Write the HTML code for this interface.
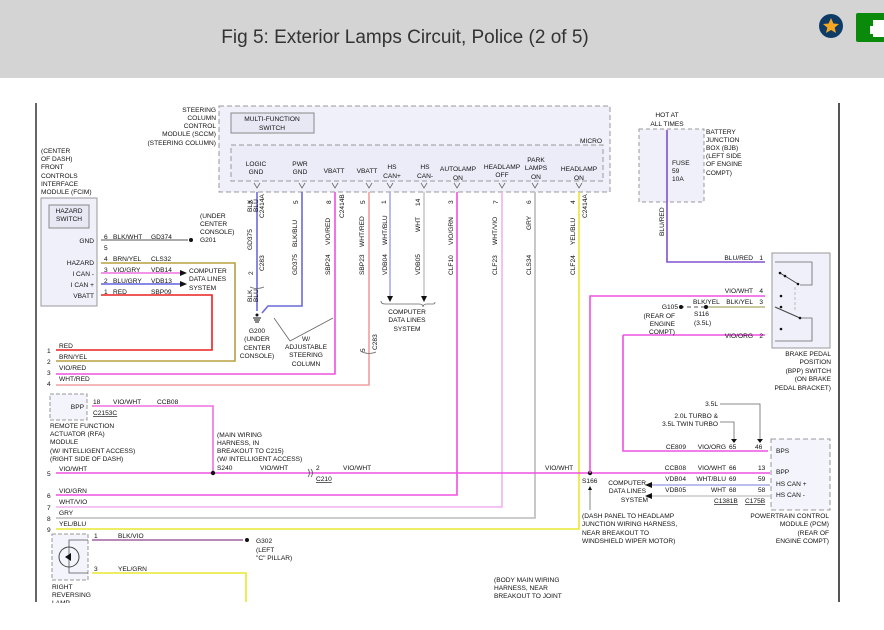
<!DOCTYPE html>
<html><head><meta charset="utf-8"><style>
html,body{margin:0;padding:0;background:#fff;}
body{width:884px;height:630px;overflow:hidden;position:relative;font-family:"Liberation Sans",sans-serif;}
#hdr{position:absolute;left:0;top:0;width:884px;height:78px;background:#d4d4d4;}
#title{position:absolute;left:0;width:810px;top:27px;text-align:center;font-size:19px;color:#333;}
svg{position:absolute;left:0;top:0;}
svg text{font-family:"Liberation Sans",sans-serif;font-size:6.6px;fill:#111;}
</style></head><body>
<div id="hdr"><div id="title">Fig 5: Exterior Lamps Circuit, Police (2 of 5)</div></div>
<svg width="884" height="630" viewBox="0 0 884 630">
<!-- header icons -->
<circle cx="831" cy="26" r="12" fill="#0e3c66"/>
<polygon points="831,18 833.4,23.5 839,24 834.7,27.6 836,33 831,30 826,33 827.3,27.6 823,24 828.6,23.5" fill="#f5a623"/>
<rect x="856" y="13" width="30" height="29" rx="2" fill="#0a8a0a"/>
<rect x="873" y="20" width="12" height="6" fill="#fff"/><rect x="870" y="26" width="15" height="8" fill="#fff"/><rect x="873" y="33" width="12" height="4" fill="#fff"/>
<!-- borders -->
<line x1="36" y1="103" x2="36" y2="602" stroke="#333" stroke-width="1.5"/>
<line x1="839" y1="103" x2="839" y2="602" stroke="#555" stroke-width="2"/>

<!-- SCCM -->
<rect x="219" y="106" width="391" height="86" fill="#f0f0fa" stroke="#999" stroke-dasharray="5,3"/>
<rect x="231" y="145" width="372" height="36" fill="#ececf8" stroke="#999" stroke-dasharray="5,3"/>
<rect x="231" y="113" width="83" height="20" fill="#e8e8f4" stroke="#888"/>
<text x="272" y="121" text-anchor="middle">MULTI-FUNCTION</text><text x="272" y="130" text-anchor="middle">SWITCH</text>
<text x="602" y="143" text-anchor="end">MICRO</text>
<g text-anchor="end"><text x="216" y="112">STEERING</text><text x="216" y="120">COLUMN</text><text x="216" y="128">CONTROL</text><text x="216" y="136">MODULE (SCCM)</text><text x="216" y="145">(STEERING COLUMN)</text></g>
<g text-anchor="middle">
<text x="256" y="166">LOGIC</text><text x="256" y="174">GND</text>
<text x="300" y="166">PWR</text><text x="300" y="174">GND</text>
<text x="334" y="173">VBATT</text><text x="367" y="173">VBATT</text>
<text x="392" y="169">HS</text><text x="392" y="178">CAN+</text>
<text x="425" y="169">HS</text><text x="425" y="178">CAN-</text>
<text x="458" y="171">AUTOLAMP</text><text x="458" y="180">ON</text>
<text x="502" y="169">HEADLAMP</text><text x="502" y="177">OFF</text>
<text x="536" y="162">PARK</text><text x="536" y="170">LAMPS</text><text x="536" y="179">ON</text>
<text x="579" y="171">HEADLAMP</text><text x="579" y="180">ON</text>
</g>
<!-- SCCM wires -->
<g fill="none" stroke-width="1.6">
<polyline points="257,192 257,311" stroke="#6a6ad8"/>
<polyline points="302,192 302,306 268,306 262,313" stroke="#6a6ad8"/>
<polyline points="335,192 335,374 56,374" stroke="#f050e0"/>
<polyline points="369,192 369,385 56,385" stroke="#f0a0a0"/>
<polyline points="390,192 390,296" stroke="#a8a8e8"/>
<polyline points="424,192 424,296" stroke="#c8c8c8"/>
<polyline points="457,192 457,495 56,495" stroke="#f050e0"/>
<polyline points="502,192 502,507 56,507" stroke="#f4b0f0"/>
<polyline points="535,192 535,518 56,518" stroke="#bbb"/>
<polyline points="579,192 579,529 56,529" stroke="#e8e830"/>
</g>
<g fill="none" stroke="#666" stroke-width="0.8">
<path d="M254,183 l3,5 l3,-5 M299,183 l3,5 l3,-5 M332,183 l3,5 l3,-5 M366,183 l3,5 l3,-5 M387,183 l3,5 l3,-5 M421,183 l3,5 l3,-5 M454,183 l3,5 l3,-5 M499,183 l3,5 l3,-5 M532,183 l3,5 l3,-5 M576,183 l3,5 l3,-5"/>
<path d="M381,301 q0,3 4,3 h34 q4,0 4,3 q0,-3 4,-3 h6 q2,0 2,-2"/>
<path d="M250,287 q7,3 14,0 M362,352 q7,3 14,0"/>
<path d="M290,341 L274,318 M290,341 L333,318"/>
</g>
<polygon points="387,296 393,296 390,302" fill="#111"/><polygon points="421,296 427,296 424,302" fill="#111"/>
<g text-anchor="middle"><text x="407" y="314">COMPUTER</text><text x="407" y="322">DATA LINES</text><text x="407" y="331">SYSTEM</text></g>
<g font-size="6">
<text transform="translate(252,212) rotate(-90)">BLK</text><text transform="translate(258,212) rotate(-90)" >BLU</text>
<text transform="translate(252,302) rotate(-90)">BLK</text><text transform="translate(258,302) rotate(-90)">BLU</text>
<text transform="translate(252,250) rotate(-90)">GD375</text><text transform="translate(297,247) rotate(-90)">BLK/BLU</text>
<text transform="translate(297,275) rotate(-90)">GD375</text><text transform="translate(330,245) rotate(-90)">VIO/RED</text>
<text transform="translate(330,275) rotate(-90)">SBP24</text><text transform="translate(364,247) rotate(-90)">WHT/RED</text>
<text transform="translate(364,275) rotate(-90)">SBP23</text><text transform="translate(387,245) rotate(-90)">WHT/BLU</text>
<text transform="translate(387,275) rotate(-90)">VDB04</text><text transform="translate(420,232) rotate(-90)">WHT</text>
<text transform="translate(420,275) rotate(-90)">VDB05</text><text transform="translate(453,245) rotate(-90)">VIO/GRN</text>
<text transform="translate(453,275) rotate(-90)">CLF10</text><text transform="translate(497,245) rotate(-90)">WHT/VIO</text>
<text transform="translate(497,275) rotate(-90)">CLF23</text><text transform="translate(531,230) rotate(-90)">GRY</text>
<text transform="translate(531,275) rotate(-90)">CLS34</text><text transform="translate(575,245) rotate(-90)">YEL/BLU</text>
<text transform="translate(575,275) rotate(-90)">CLF24</text>
<text transform="translate(264,218) rotate(-90)">C2414A</text><text transform="translate(264,271) rotate(-90)">C283</text>
<text transform="translate(344,218) rotate(-90)">C2414B</text><text transform="translate(587,218) rotate(-90)">C2414A</text>
<text transform="translate(377,350) rotate(-90)">C283</text>
<text transform="translate(253,204) rotate(-90)">2</text><text transform="translate(253,275) rotate(-90)">2</text>
<text transform="translate(298,204) rotate(-90)">5</text><text transform="translate(331,204) rotate(-90)">8</text>
<text transform="translate(365,204) rotate(-90)">5</text><text transform="translate(365,352) rotate(-90)">5</text>
<text transform="translate(386,204) rotate(-90)">1</text><text transform="translate(420,206) rotate(-90)">14</text>
<text transform="translate(453,204) rotate(-90)">3</text><text transform="translate(498,204) rotate(-90)">7</text>
<text transform="translate(531,204) rotate(-90)">6</text><text transform="translate(575,204) rotate(-90)">4</text>
</g>
<!-- G200 -->
<line x1="253" y1="318" x2="261" y2="318" stroke="#111"/><line x1="254" y1="320" x2="260" y2="320" stroke="#111"/><line x1="255" y1="322" x2="259" y2="322" stroke="#111"/><circle cx="257" cy="315" r="1.5" fill="#111"/>
<g text-anchor="middle"><text x="257" y="333">G200</text><text x="257" y="341">(UNDER</text><text x="257" y="350">CENTER</text><text x="257" y="358">CONSOLE)</text>
<text x="306" y="341">W/</text><text x="306" y="349">ADJUSTABLE</text><text x="306" y="357">STEERING</text><text x="306" y="366">COLUMN</text></g>

<!-- FCIM -->
<g><text x="41" y="153">(CENTER</text><text x="41" y="161">OF DASH)</text><text x="41" y="169">FRONT</text><text x="41" y="178">CONTROLS</text><text x="41" y="186">INTERFACE</text><text x="41" y="194">MODULE (FCIM)</text></g>
<rect x="41" y="198" width="56" height="108" fill="#f0f0fa" stroke="#999"/>
<rect x="49" y="205" width="40" height="23" fill="#e8e8f4" stroke="#888"/>
<text x="69" y="213" text-anchor="middle">HAZARD</text><text x="69" y="221" text-anchor="middle">SWITCH</text>
<g text-anchor="end"><text x="94" y="243">GND</text><text x="94" y="265">HAZARD</text><text x="94" y="276">I CAN -</text><text x="94" y="287">I CAN +</text><text x="94" y="298">VBATT</text></g>
<g fill="none" stroke-width="1.6">
<line x1="101" y1="240" x2="188" y2="240" stroke="#555" stroke-width="1"/>
<polyline points="101,263 235,263 235,361 56,361" stroke="#b8a040"/>
<line x1="101" y1="273" x2="180" y2="273" stroke="#f070e0"/>
<line x1="101" y1="284" x2="180" y2="284" stroke="#6060e0"/>
<polyline points="101,295 212,295 212,350 56,350" stroke="#e82020"/>
</g>
<polygon points="180,270 187,273 180,276" fill="#111"/><polygon points="180,281 187,284 180,287" fill="#111"/>
<circle cx="191" cy="240" r="2" fill="#111"/>
<g><text x="104" y="239">6</text><text x="113" y="239">BLK/WHT</text><text x="151" y="239">GD374</text><text x="104" y="250">5</text>
<text x="104" y="261">4</text><text x="113" y="261">BRN/YEL</text><text x="151" y="261">CLS32</text>
<text x="104" y="272">3</text><text x="113" y="272">VIO/GRY</text><text x="151" y="272">VDB14</text>
<text x="104" y="283">2</text><text x="113" y="283">BLU/GRY</text><text x="151" y="283">VDB13</text>
<text x="104" y="294">1</text><text x="113" y="294">RED</text><text x="151" y="294">SBP09</text>
<text x="189" y="273">COMPUTER</text><text x="189" y="281">DATA LINES</text><text x="189" y="290">SYSTEM</text>
<text x="200" y="218">(UNDER</text><text x="200" y="226">CENTER</text><text x="200" y="234">CONSOLE)</text><text x="200" y="242">G201</text></g>
<!-- left rows -->
<g><text x="47" y="353">1</text><text x="47" y="364">2</text><text x="47" y="375">3</text><text x="47" y="386">4</text>
<text x="59" y="348">RED</text><text x="59" y="359">BRN/YEL</text><text x="59" y="370">VIO/RED</text><text x="59" y="381">WHT/RED</text>
<text x="47" y="476">5</text><text x="47" y="498">6</text><text x="47" y="510">7</text><text x="47" y="521">8</text><text x="47" y="532">9</text>
<text x="59" y="471">VIO/WHT</text><text x="59" y="493">VIO/GRN</text><text x="59" y="504">WHT/VIO</text><text x="59" y="515">GRY</text><text x="59" y="526">YEL/BLU</text></g>

<!-- RFA -->
<rect x="50" y="394" width="37" height="26" fill="#f4f4fc" stroke="#999" stroke-dasharray="4,2"/>
<text x="84" y="409" text-anchor="end">BPP</text>
<polyline points="92,406 213,406 213,473" fill="none" stroke="#f070e0" stroke-width="1.6"/>
<text x="93" y="404">18</text><text x="113" y="404">VIO/WHT</text><text x="157" y="404">CCB08</text><text x="93" y="415" text-decoration="underline">C2153C</text>
<g><text x="50" y="428">REMOTE FUNCTION</text><text x="50" y="436">ACTUATOR (RFA)</text><text x="50" y="444">MODULE</text><text x="50" y="453">(W/ INTELLIGENT ACCESS)</text><text x="50" y="461">(RIGHT SIDE OF DASH)</text>
<text x="217" y="437">(MAIN WIRING</text><text x="217" y="445">HARNESS, IN</text><text x="217" y="453">BREAKOUT TO C215)</text><text x="217" y="461">(W/ INTELLIGENT ACCESS)</text>
<text x="217" y="470">S240</text><text x="260" y="470">VIO/WHT</text><text x="316" y="470">2</text><text x="343" y="470">VIO/WHT</text><text x="316" y="481" text-decoration="underline">C210</text>
<text x="545" y="470">VIO/WHT</text></g>
<line x1="56" y1="473" x2="770" y2="473" stroke="#f050e0" stroke-width="1.6"/>
<circle cx="213" cy="473" r="2.2" fill="#111"/><circle cx="590" cy="473" r="2.2" fill="#111"/>
<path d="M308,469 q3,4 0,8 M311,469 q3,4 0,8" fill="none" stroke="#555" stroke-width="0.8"/>

<!-- Lamp -->
<rect x="52" y="534" width="36" height="46" fill="#f4f4fc" stroke="#999" stroke-dasharray="4,2"/>
<circle cx="69" cy="557" r="10" fill="none" stroke="#444"/>
<polyline points="88,540 69,540 69,573 88,573" fill="none" stroke="#555" stroke-width="0.8"/>
<polygon points="65,557 71,553 71,561" fill="#111"/>
<line x1="92" y1="540" x2="243" y2="540" stroke="#a060a0" stroke-width="1.6"/>
<polyline points="92,573 246,573 246,602" fill="none" stroke="#e8e830" stroke-width="1.6"/>
<circle cx="247" cy="540" r="2" fill="#111"/>
<g><text x="94" y="538">1</text><text x="118" y="538">BLK/VIO</text><text x="94" y="571">3</text><text x="118" y="571">YEL/GRN</text>
<text x="256" y="543">G302</text><text x="256" y="552">(LEFT</text><text x="256" y="560">"C" PILLAR)</text>
<text x="52" y="589">RIGHT</text><text x="52" y="597">REVERSING</text><text x="52" y="605">LAMP</text>
<text x="494" y="582">(BODY MAIN WIRING</text><text x="494" y="590">HARNESS, NEAR</text><text x="494" y="598">BREAKOUT TO JOINT</text></g>
<rect x="0" y="603" width="884" height="27" fill="#fff"/>

<!-- BJB -->
<text x="667" y="117" text-anchor="middle">HOT AT</text><text x="667" y="126" text-anchor="middle">ALL TIMES</text>
<rect x="639" y="129" width="65" height="73" fill="#f0f0fa" stroke="#999" stroke-dasharray="4,3"/>
<polyline points="667,130 667,262 765,262" fill="none" stroke="#8050d0" stroke-width="1.6"/>
<text x="672" y="165">FUSE</text><text x="672" y="173">59</text><text x="672" y="181">10A</text>
<g><text x="706" y="134">BATTERY</text><text x="706" y="142">JUNCTION</text><text x="706" y="150">BOX (BJB)</text><text x="706" y="158">(LEFT SIDE</text><text x="706" y="166">OF ENGINE</text><text x="706" y="175">COMPT)</text></g>
<text transform="translate(664,236) rotate(-90)" font-size="6">BLU/RED</text>

<!-- BPP switch -->
<rect x="772" y="253" width="58" height="95" fill="#f0f0fa" stroke="#999"/>
<polyline points="775,262 812,262 812,285 800,285" fill="none" stroke="#666" stroke-width="0.8"/>
<line x1="780" y1="273" x2="798" y2="284" stroke="#444"/>
<line x1="795" y1="287" x2="795" y2="312" stroke="#bbb" stroke-dasharray="3,2"/>
<line x1="775" y1="307" x2="800" y2="318" stroke="#444"/>
<polyline points="800,318 812,318 812,341 775,341" fill="none" stroke="#666" stroke-width="0.8"/>
<circle cx="780" cy="273" r="1.3" fill="#111"/><circle cx="785" cy="276" r="1.3" fill="#111"/><circle cx="798" cy="284" r="1.3" fill="#111"/>
<circle cx="781" cy="296" r="1.3" fill="#111"/><circle cx="781" cy="307" r="1.3" fill="#111"/><circle cx="800" cy="318" r="1.3" fill="#111"/><circle cx="781" cy="329" r="1.3" fill="#111"/>
<polyline points="590,473 590,296 765,296" fill="none" stroke="#f050e0" stroke-width="1.6"/>
<line x1="705" y1="307" x2="765" y2="307" stroke="#b8b880" stroke-width="1.4"/>
<line x1="680" y1="307" x2="705" y2="307" stroke="#555" stroke-dasharray="4,3"/>
<circle cx="681" cy="307" r="2" fill="#111"/><circle cx="706" cy="307" r="2" fill="#111"/>
<polyline points="623,335 765,335 765,335" fill="none" stroke="#f050e0" stroke-width="1.6"/>
<polyline points="623,335 623,451 768,451" fill="none" stroke="#f050e0" stroke-width="1.6"/>
<g text-anchor="end"><text x="753" y="260">BLU/RED</text><text x="753" y="293">VIO/WHT</text><text x="753" y="304">BLK/YEL</text><text x="753" y="338">VIO/ORG</text>
<text x="763" y="260">1</text><text x="763" y="293">4</text><text x="763" y="304">3</text><text x="763" y="338">2</text>
<text x="678" y="309">G105</text><text x="675" y="318">(REAR OF</text><text x="675" y="326">ENGINE</text><text x="675" y="334">COMPT)</text>
<text x="831" y="356">BRAKE PEDAL</text><text x="831" y="364">POSITION</text><text x="831" y="373">(BPP) SWITCH</text><text x="831" y="381">(ON BRAKE</text><text x="831" y="390">PEDAL BRACKET)</text></g>
<text x="693" y="304">BLK/YEL</text><text x="694" y="316">S116</text><text x="694" y="325">(3.5L)</text>

<!-- PCM -->
<rect x="771" y="439" width="59" height="71" fill="#f4f4fc" stroke="#999" stroke-dasharray="5,3"/>
<g><text x="776" y="453">BPS</text><text x="776" y="474">BPP</text><text x="776" y="486">HS CAN +</text><text x="776" y="497">HS CAN -</text></g>
<line x1="652" y1="485" x2="770" y2="485" stroke="#a8a8e8" stroke-width="1.4"/>
<line x1="652" y1="496" x2="770" y2="496" stroke="#ccc" stroke-width="1.4"/>
<polygon points="652,482 645,485 652,488" fill="#111"/><polygon points="652,493 645,496 652,499" fill="#111"/>
<polyline points="720,404 760,404 760,439" fill="none" stroke="#666" stroke-width="0.8"/>
<polyline points="720,422 734,422 734,439" fill="none" stroke="#666" stroke-width="0.8"/>
<g text-anchor="end"><text x="718" y="406">3.5L</text><text x="718" y="418">2.0L TURBO &amp;</text><text x="718" y="426">3.5L TWIN TURBO</text>
<text x="686" y="449">CE809</text><text x="726" y="449">VIO/ORG</text><text x="686" y="470">CCB08</text><text x="726" y="470">VIO/WHT</text>
<text x="686" y="481">VDB04</text><text x="726" y="481">WHT/BLU</text><text x="686" y="492">VDB05</text><text x="726" y="492">WHT</text>
<text x="646" y="485">COMPUTER</text><text x="646" y="493">DATA LINES</text><text x="648" y="502">SYSTEM</text>
<text x="829" y="518">POWERTRAIN CONTROL</text><text x="829" y="526">MODULE (PCM)</text><text x="829" y="535">(REAR OF</text><text x="829" y="543">ENGINE COMPT)</text></g>
<g><text x="729" y="449">65</text><text x="755" y="449">46</text><text x="729" y="470">66</text><text x="758" y="470">13</text><text x="729" y="481">69</text><text x="758" y="481">59</text><text x="729" y="492">68</text><text x="758" y="492">58</text>
<text x="714" y="503" text-decoration="underline">C1381B</text><text x="745" y="503" text-decoration="underline">C175B</text>
<text x="582" y="483">S166</text>
<text x="582" y="518">(DASH PANEL TO HEADLAMP</text><text x="582" y="526">JUNCTION WIRING HARNESS,</text><text x="582" y="535">NEAR BREAKOUT TO</text><text x="582" y="543">WINDSHIELD WIPER MOTOR)</text></g>
<line x1="590" y1="490" x2="590" y2="510" stroke="#666" stroke-width="0.8"/><polygon points="588,490 592,490 590,486" fill="#111"/>
<polygon points="731,439 737,439 734,443" fill="#111"/><polygon points="757,439 763,439 760,443" fill="#111"/>
</svg>
</body></html>
